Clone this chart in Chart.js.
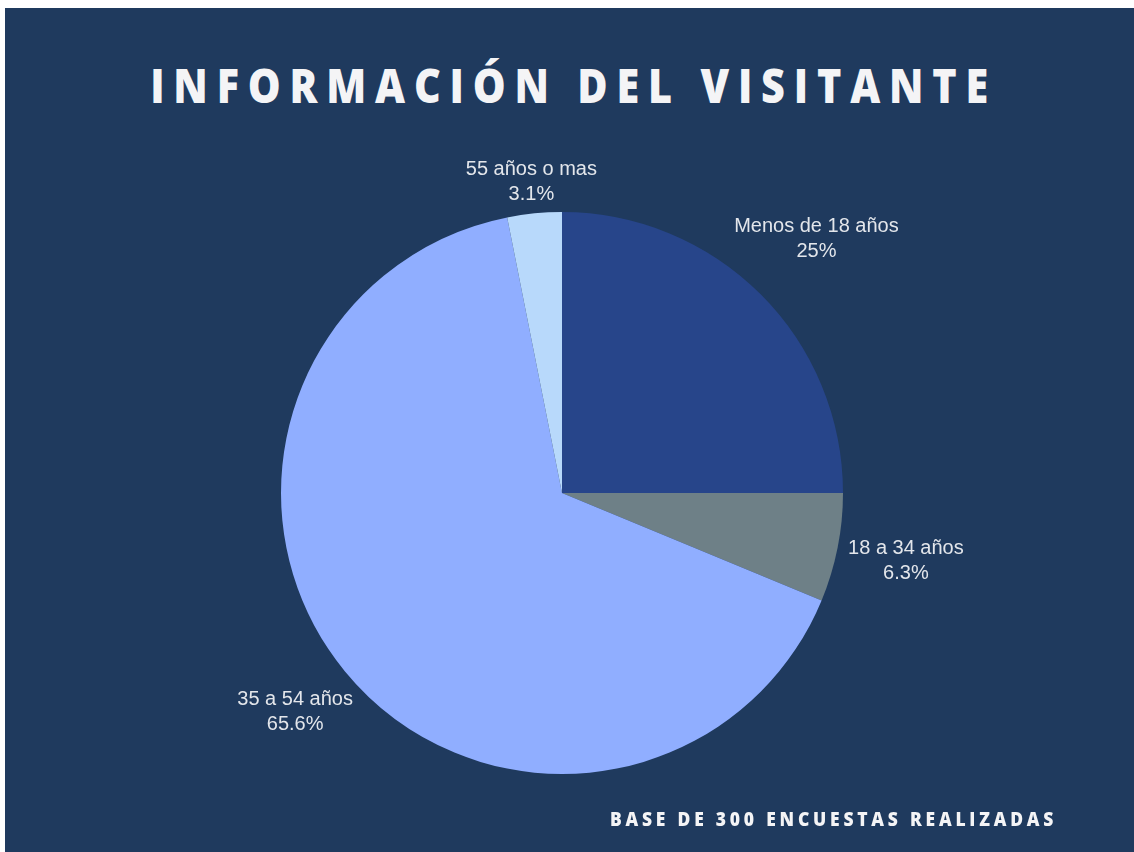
<!DOCTYPE html>
<html>
<head>
<meta charset="utf-8">
<script src="https://cdn.jsdelivr.net/npm/chart.js@4.4.1/dist/chart.umd.min.js"></script>
<style>
    html, body { margin: 0; padding: 0; background: #ffffff; }
    #panel {
        position: absolute; left: 5px; top: 8px; width: 1129px; height: 844px;
        background: #1f3a5e; overflow: hidden;
    }
    #titulo {
        position: absolute; left: 0; top: 47px; width: 100%; text-align: center;
        color: #f4f4f6; font-family: "Open Sans", sans-serif; font-weight: 800;
        font-size: 47px; line-height: 60px; white-space: nowrap;
    }
    #titulo span {
        display: inline-block; letter-spacing: 10px; padding-left: 10px;
        transform: scaleX(0.88); transform-origin: center;
    }
    #pie {
        position: absolute; left: 605px; top: 799px; white-space: nowrap;
        color: #f4f4f6; font-family: "Open Sans", sans-serif; font-weight: 800;
        font-size: 19px; letter-spacing: 4.1px; line-height: 24px;
        transform: scaleX(0.92); transform-origin: left;
    }
    #wrap { position: absolute; left: 0; top: 0; width: 1129px; height: 844px; }
</style>
</head>
<body>
<div id="panel">
    <div id="titulo"><span>INFORMACIÓN DEL VISITANTE</span></div>
    <div id="wrap"><canvas id="edadChart"></canvas></div>
    <div id="pie">BASE DE 300 ENCUESTAS REALIZADAS</div>
</div>
<script>
// Datos de la encuesta (número de visitantes por grupo de edad)
const categorias = ['Menos de 18 años', '18 a 34 años', '35 a 54 años', '55 años o mas'];
const visitantes = [8, 2, 21, 1];
const etiquetasPct = ['25%', '6.3%', '65.6%', '3.1%'];
const colores = ['#27458a', '#6e8087', '#90aeff', '#b8d9fb'];

// Plugin para dibujar las etiquetas fuera de cada porción
const etiquetasFuera = {
    id: 'etiquetasFuera',
    afterDraw(chart) {
        const ctx = chart.ctx;
        const meta = chart.getDatasetMeta(0);
        ctx.save();
        ctx.font = '20px "Liberation Sans", Arial, sans-serif';
        ctx.fillStyle = '#e3e6eb';
        ctx.textAlign = 'center';
        ctx.textBaseline = 'middle';
        const lineH = 25;
        meta.data.forEach((arc, i) => {
            const ang = (arc.startAngle + arc.endAngle) / 2;
            const dx = Math.cos(ang), dy = Math.sin(ang);
            const lineas = [categorias[i], etiquetasPct[i]];
            const w = Math.max(...lineas.map(t => ctx.measureText(t).width));
            const hw = w / 2, hh = 15;
            const r = arc.outerRadius + 10;
            const shift = hw * Math.abs(dx) + hh * Math.abs(dy);
            const cx = arc.x + dx * (r + shift);
            const cy = arc.y + dy * (r + shift);
            ctx.fillText(lineas[0], cx, cy - lineH / 2);
            ctx.fillText(lineas[1], cx, cy + lineH / 2);
        });
        ctx.restore();
    }
};

let edadChart = new Chart(document.getElementById('edadChart').getContext('2d'), {
    type: 'pie',
    data: {
        labels: categorias,
        datasets: [{
            data: visitantes,
            backgroundColor: colores,
            borderWidth: 0
        }]
    },
    options: {
        responsive: true,
        maintainAspectRatio: false,
        animation: false,
        layout: {
            padding: { left: 276, right: 291, top: 204, bottom: 78 }
        },
        plugins: {
            legend: { display: false },
            tooltip: { enabled: false }
        }
    },
    plugins: [etiquetasFuera]
});
</script>
</body>
</html>
